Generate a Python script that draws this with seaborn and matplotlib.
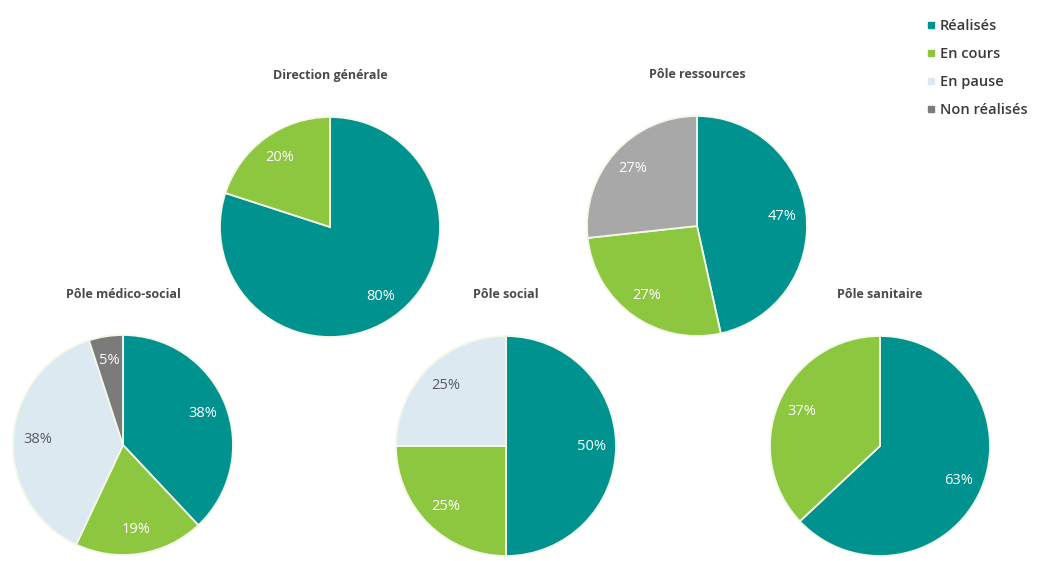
import matplotlib
matplotlib.use("Agg")
import matplotlib.pyplot as plt
from matplotlib.lines import Line2D
import seaborn as sns

# ---- data ----
categories = ["Réalisés", "En cours", "En pause", "Non réalisés"]
titles = ["Direction générale", "Pôle ressources", "Pôle médico-social", "Pôle social", "Pôle sanitaire"]
dir_generale = [80, 20, 0, 0]
pole_ressources = [47, 27, 0, 27]
pole_medico_social = [38, 19, 38, 5]
pole_social = [50, 25, 25, 0]
pole_sanitaire = [63, 37, 0, 0]
series = [dir_generale, pole_ressources, pole_medico_social, pole_social, pole_sanitaire]

# ---- style ----
sns.set_theme(style="white")
plt.rcParams['font.family'] = ['Open Sans', 'DejaVu Sans']

teal = "#00928f"
green = "#8dc63f"
pale = "#dce9f1"
grey_dark = "#7b7b7b"
grey_light = "#a8a8a8"
base_colors = [teal, green, pale, grey_dark]
# the "Non réalisés" slice in Pôle ressources is drawn in a lighter grey
non_real_colors = [grey_dark, grey_light, grey_dark, grey_dark, grey_dark]

W, H = 1048, 561
fig = plt.figure(figsize=(W / 100, H / 100), dpi=100)
fig.patch.set_facecolor("white")

# pie centres (pixel) and radius
centres = [(330, 227), (697, 226), (123, 445), (506, 446), (880, 446)]
R = 110
title_dy = 151

for i, (vals, title, (cx, cy)) in enumerate(zip(series, titles, centres)):
    ax = fig.add_axes([(cx - R) / W, (H - cy - R) / H, 2 * R / W, 2 * R / H])
    cols = [teal, green, pale, non_real_colors[i]]
    v = [x for x in vals if x > 0]
    c = [cols[k] for k, x in enumerate(vals) if x > 0]
    lab_cols = ["#5a5a5a" if cols[k] == pale else "white" for k, x in enumerate(vals) if x > 0]
    wedges, texts, autotexts = ax.pie(
        v, colors=c, startangle=90, counterclock=False,
        autopct=lambda p: f"{p:.0f}%", pctdistance=0.78,
        wedgeprops=dict(edgecolor="#f4f8e8", linewidth=1.3),
        textprops=dict(fontsize=10.5),
    )
    for t, lc in zip(autotexts, lab_cols):
        t.set_color(lc)
    ax.set_xlim(-1.0, 1.0)
    ax.set_ylim(-1.0, 1.0)
    ax.set_aspect("equal")
    ax.axis("off")
    fig.text(cx / W, (H - (cy - title_dy)) / H, title, ha="center", va="center",
             fontsize=9, fontweight="bold", color="#4a4a4a")

handles = [Line2D([0], [0], marker="s", linestyle="", markersize=4,
                  markerfacecolor=col, markeredgecolor=col) for col in base_colors]
fig.legend(handles, categories, loc="upper left", bbox_to_anchor=(914 / W, 1 - 6 / H),
           frameon=False, prop=dict(size=10.5, weight="semibold"), labelspacing=0.95,
           handlelength=0.5, handletextpad=0.35, labelcolor="#3a3a3a")

fig.savefig("out.png", dpi=100, facecolor="white")
